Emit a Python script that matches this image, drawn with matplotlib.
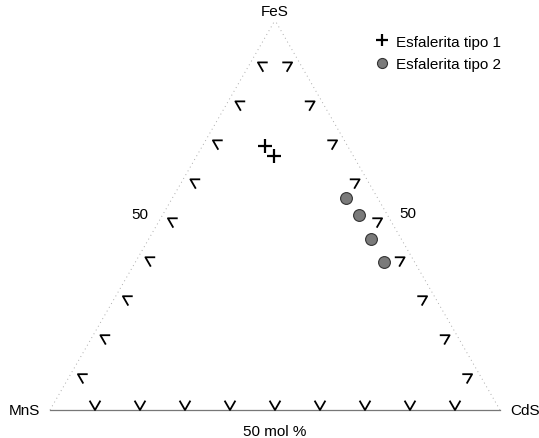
import matplotlib.pyplot as plt
import numpy as np

plt.rcParams['font.family'] = ['Liberation Sans', 'DejaVu Sans']

# composiciones en mol %: (FeS, CdS, MnS)
tipo1_fes = [67.7, 65.2]
tipo1_cds = [13.9, 17.2]
tipo1_mns = [18.4, 17.6]

tipo2_fes = [54.4, 50.0, 43.9, 38.0]
tipo2_cds = [38.6, 43.7, 49.4, 55.2]
tipo2_mns = [7.0, 6.3, 6.7, 6.8]

ticks = [10, 20, 30, 40, 50, 60, 70, 80, 90]
h = np.sqrt(3) / 2
fs = 11


def tern(fes, cds):
    fes = np.asarray(fes) / 100.0
    cds = np.asarray(cds) / 100.0
    return cds + fes / 2, fes * h


fig = plt.figure(figsize=(5.39, 4.39), dpi=100)
ax = fig.add_axes([0, 0, 1, 1])
ax.set_xlim(-50 / 450, 489 / 450)
ax.set_ylim(-28 / 450, 411 / 450)
ax.axis('off')

# lados del triangulo
ax.plot([0, 1], [0, 0], color='#777777', lw=0.9)
ax.plot([0, 0.5], [0, h], color='#aaaaaa', lw=0.7, ls=(0, (1, 3.5)))
ax.plot([1, 0.5], [0, h], color='#aaaaaa', lw=0.7, ls=(0, (1, 3.5)))

# marcas de escala
L = 0.022
c60, s60 = 0.5, h
for t in ticks:
    # base
    x0, y0 = tern(0, 100 - t)
    ax.plot([x0 - L * c60, x0, x0 + L * c60], [y0 + L * s60, y0, y0 + L * s60],
            color='black', lw=1.3)
    # lado izquierdo (MnS-FeS)
    x0, y0 = tern(t, 0)
    x0 += 0.012
    y0 -= 0.007
    ax.plot([x0 + L * 0.9, x0, x0 + L * c60], [y0, y0, y0 - L * s60], color='black', lw=1.3)
    # lado derecho (CdS-FeS)
    x0, y0 = tern(t, 100 - t)
    x0 -= 0.012
    y0 -= 0.007
    ax.plot([x0 - L * 0.9, x0, x0 - L * c60], [y0, y0, y0 - L * s60], color='black', lw=1.3)

# datos
x1, y1 = tern(tipo1_fes, tipo1_cds)
x2, y2 = tern(tipo2_fes, tipo2_cds)
ax.plot(x1, y1, ls='none', marker='+', ms=9.5, mew=1.6, color='black',
        label='Esfalerita tipo 1')
ax.plot(x2, y2, ls='none', marker='o', ms=8.5, mew=0.8, mfc='#7a7a7a', mec='#333333',
        label='Esfalerita tipo 2')

# etiquetas
ax.text(0.5, 399 / 450, 'FeS', ha='center', va='center', fontsize=fs)
ax.text(-0.022, 0, 'MnS', ha='right', va='center', fontsize=fs)
ax.text(1.022, 0, 'CdS', ha='left', va='center', fontsize=fs)
ax.text(0.5, -21 / 450, '50 mol %', ha='center', va='center', fontsize=fs)
ax.text(90 / 450, 196 / 450, '50', ha='center', va='center', fontsize=fs)
ax.text(358 / 450, 197 / 450, '50', ha='center', va='center', fontsize=fs)

ax.legend(loc='upper left', bbox_to_anchor=(367 / 539, 1 - 28 / 439),
          bbox_transform=fig.transFigure, frameon=False, fontsize=fs,
          handletextpad=0.4, handlelength=1.0, labelspacing=0.55, borderpad=0,
          markerscale=0.85)

fig.savefig('out.png', dpi=100)
